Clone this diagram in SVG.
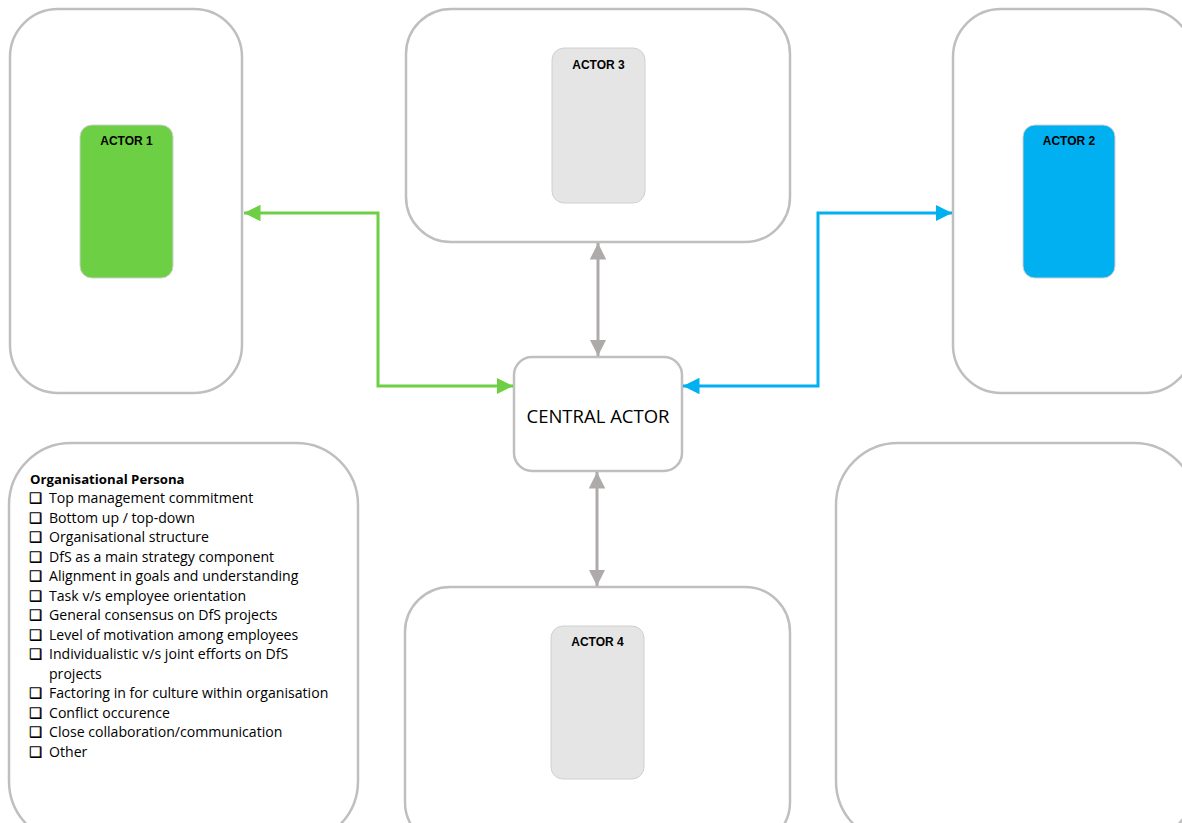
<svg xmlns="http://www.w3.org/2000/svg" width="1182" height="823" viewBox="0 0 1182 823">
<style>
.box{fill:#fff;stroke:#BFBFBF;stroke-width:2.5}
.actor{stroke:#D0D0D0;stroke-width:1}
.lbl{font-family:"Liberation Sans",Arial,sans-serif;font-weight:bold;font-size:12px;fill:#000;text-anchor:middle}
.central{font-family:"Open Sans","Liberation Sans",sans-serif;font-size:18.5px;fill:#000;text-anchor:middle}
.list{font-family:"Open Sans","Liberation Sans",sans-serif;font-size:14.1px;fill:#000}
.ttl{font-family:"Open Sans","Liberation Sans",sans-serif;font-size:13.2px;font-weight:bold;fill:#000}
.cb{font-family:"DejaVu Sans",sans-serif;font-size:14.5px;fill:#000;stroke:#000;stroke-width:0.4}
</style>
<defs>
<marker id="ag" viewBox="0 0 10 10" refX="10" refY="5" markerWidth="5.5" markerHeight="5.5" orient="auto-start-reverse" markerUnits="strokeWidth"><path d="M0,0 L10,5 L0,10 z" fill="#6DCF43"/></marker>
<marker id="ab" viewBox="0 0 10 10" refX="10" refY="5" markerWidth="5.5" markerHeight="5.5" orient="auto-start-reverse" markerUnits="strokeWidth"><path d="M0,0 L10,5 L0,10 z" fill="#00B0F0"/></marker>
<marker id="ay" viewBox="0 0 10 10" refX="10" refY="5" markerWidth="5.5" markerHeight="5.5" orient="auto-start-reverse" markerUnits="strokeWidth"><path d="M0,0 L10,5 L0,10 z" fill="#AEAAAA"/></marker>
</defs>
<rect width="1182" height="823" fill="#fff"/>
<g id="box-actor1"><rect class="box" x="10" y="9" width="232" height="384" rx="48"/>
<rect id="actor1" class="actor" x="80" y="125" width="93" height="153" rx="12" fill="#6DCF43"/><text class="lbl" x="126.5" y="145">ACTOR 1</text></g>
<g id="box-actor3"><rect class="box" x="406" y="9" width="384" height="233" rx="45"/>
<rect id="actor3" class="actor" x="552" y="48" width="93" height="155" rx="12" fill="#E5E5E5"/><text class="lbl" x="598.5" y="69">ACTOR 3</text></g>
<g id="box-actor2"><rect class="box" x="953" y="9" width="240" height="384" rx="48"/>
<rect id="actor2" class="actor" x="1023" y="125" width="92" height="153" rx="12" fill="#00B0F0"/><text class="lbl" x="1069" y="145">ACTOR 2</text></g>
<g id="box-persona"><rect class="box" x="9" y="443" width="349" height="400" rx="62"/>
<text class="ttl" x="30" y="484">Organisational Persona</text>
<g class="cb"><text x="29" y="503">❑</text><text x="29" y="522.5">❑</text><text x="29" y="542">❑</text><text x="29" y="561.5">❑</text><text x="29" y="581">❑</text><text x="29" y="600.5">❑</text><text x="29" y="620">❑</text><text x="29" y="639.5">❑</text><text x="29" y="659">❑</text><text x="29" y="698">❑</text><text x="29" y="717.5">❑</text><text x="29" y="737">❑</text><text x="29" y="756.5">❑</text></g>
<g class="list"><text x="49" y="503">Top management commitment</text><text x="49" y="522.5">Bottom up / top-down</text><text x="49" y="542">Organisational structure</text><text x="49" y="561.5">DfS as a main strategy component</text><text x="49" y="581">Alignment in goals and understanding</text><text x="49" y="600.5">Task v/s employee orientation</text><text x="49" y="620">General consensus on DfS projects</text><text x="49" y="639.5">Level of motivation among employees</text><text x="49" y="659">Individualistic v/s joint efforts on DfS</text><text x="49" y="678.5">projects</text><text x="49" y="698">Factoring in for culture within organisation</text><text x="49" y="717.5">Conflict occurence</text><text x="49" y="737">Close collaboration/communication</text><text x="49" y="756.5">Other</text></g></g>
<g id="box-actor4"><rect class="box" x="405" y="587" width="385" height="260" rx="45"/>
<rect id="actor4" class="actor" x="551" y="626" width="93" height="153" rx="12" fill="#E5E5E5"/><text class="lbl" x="597.5" y="646">ACTOR 4</text></g>
<g id="box-empty"><rect class="box" x="836" y="443" width="360" height="400" rx="62"/></g>
<g id="central"><rect class="box" x="514" y="357" width="168" height="114" rx="18"/><text class="central" x="598" y="423">CENTRAL ACTOR</text></g>
<g id="connectors" fill="none" stroke-width="3">
<path d="M244,213 H378 V386 H513" stroke="#6DCF43" marker-start="url(#ag)" marker-end="url(#ag)"/>
<path d="M952,213 H818 V386 H683" stroke="#00B0F0" marker-start="url(#ab)" marker-end="url(#ab)"/>
<path d="M598,243 V356" stroke="#AEAAAA" marker-start="url(#ay)" marker-end="url(#ay)"/>
<path d="M597,472 V586" stroke="#AEAAAA" marker-start="url(#ay)" marker-end="url(#ay)"/>
</g>
</svg>
